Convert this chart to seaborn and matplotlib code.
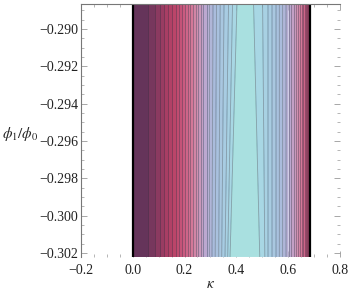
import numpy as np
import matplotlib
matplotlib.use("Agg")
import matplotlib.pyplot as plt
import seaborn as sns
from matplotlib.colors import LinearSegmentedColormap, Normalize
from matplotlib.ticker import MultipleLocator, FuncFormatter

# ---- data ----
# kappa positions of contour lines on the rising (left) side, levels 1..26, at top / bottom of plot
left_top = [0.0603, 0.0863, 0.1056, 0.1222, 0.1377, 0.1532, 0.1675, 0.1803, 0.1919, 0.2023,
            0.2128, 0.2228, 0.2333, 0.2429, 0.2526, 0.2623, 0.2731, 0.2863, 0.2963, 0.3099,
            0.3234, 0.3377, 0.3524, 0.3698, 0.3853, 0.4023]
left_bot = [0.0603, 0.0863, 0.1056, 0.1222, 0.1377, 0.1532, 0.1675, 0.1803, 0.1919, 0.2023,
            0.2128, 0.2228, 0.2333, 0.2429, 0.2526, 0.2623, 0.2731, 0.2863, 0.2963, 0.3060,
            0.3184, 0.3319, 0.3435, 0.3563, 0.3667, 0.3756]
# falling (right) side, levels 26 down to 6
right_top = [0.4665, 0.5014, 0.5222, 0.5377, 0.5532, 0.5660, 0.5787, 0.5919, 0.6019, 0.6124,
             0.6213, 0.6306, 0.6383, 0.6460, 0.6530, 0.6588, 0.6646, 0.6692, 0.6731, 0.6762, 0.6789]
right_bot = [0.4905, 0.5099, 0.5222, 0.5377, 0.5532, 0.5660, 0.5787, 0.5919, 0.6019, 0.6124,
             0.6213, 0.6306, 0.6383, 0.6460, 0.6530, 0.6588, 0.6646, 0.6692, 0.6731, 0.6762, 0.6789]
kappa_min, kappa_max = 0.0, 0.684
left_edge_value, right_edge_value, peak_value = 0.5, 1.5, 26.5
phi_top, phi_bottom = -0.28866, -0.30222

band_stops = [0, 2, 4, 6, 9, 12, 14, 17, 20, 23, 25, 26]
band_colors = ["#65345a", "#8c3a60", "#a83e64", "#bb4569", "#cb5b80", "#d47898",
               "#d090b0", "#bca8d0", "#aabcdc", "#a8cce2", "#a8d6e4", "#a9e0e0"]

xticks = [-0.2, 0.0, 0.2, 0.4, 0.6, 0.8]
yticks = [-0.302, -0.300, -0.298, -0.296, -0.294, -0.292, -0.290]

# ---- build field whose contours sit at the read positions ----
nL = len(left_top)
nR = len(right_top)
kap = np.linspace(kappa_min, kappa_max, 1600)
phis = np.linspace(phi_bottom, phi_top, 80)
Z = np.zeros((len(phis), len(kap)))
for i, p in enumerate(phis):
    t = (p - phi_bottom) / (phi_top - phi_bottom)
    L = (1 - t) * np.array(left_bot) + t * np.array(left_top)
    R = (1 - t) * np.array(right_bot) + t * np.array(right_top)
    peak = 0.5 * (L[-1] + R[0])
    xs = np.concatenate([[kappa_min], L, [peak], R, [kappa_max]])
    vs = np.concatenate([[left_edge_value], np.arange(1, nL + 1), [peak_value],
                         np.arange(26, 26 - nR, -1), [right_edge_value]])
    Z[i] = np.interp(kap, xs, vs)
K, P = np.meshgrid(kap, phis)

sns.set_style("ticks")
plt.rcParams["font.family"] = ["Liberation Serif", "DejaVu Serif"]
plt.rcParams["mathtext.fontset"] = "stix"

cmap = LinearSegmentedColormap.from_list(
    "m10", [(s / 26, c) for s, c in zip(band_stops, band_colors)])

fig = plt.figure(figsize=(3.49, 2.93), dpi=100)
ax = fig.add_axes([0.232, 0.123, 0.742, 0.8635])

levels = np.arange(0, 28)
ax.contourf(K, P, Z, levels=levels, cmap=cmap, norm=Normalize(0.5, 26.5), antialiased=True)
ax.contour(K, P, Z, levels=levels[1:27], colors="#1a2a3a", alpha=0.38, linewidths=0.6)
for kb in (kappa_min, kappa_max):
    ax.plot([kb, kb], [phi_bottom, phi_top], color="black", lw=1.6, solid_capstyle="butt")

ax.set_xlim(-0.2, 0.8)
ax.set_ylim(phi_bottom, phi_top)
ax.set_xticks(xticks)
ax.set_yticks(yticks)
ax.xaxis.set_minor_locator(MultipleLocator(0.05))
ax.yaxis.set_minor_locator(MultipleLocator(0.0005))
ax.xaxis.set_major_formatter(FuncFormatter(lambda v, _: f"{v:.1f}".replace("-", "\u2212")))
ax.yaxis.set_major_formatter(FuncFormatter(lambda v, _: f"{v:.3f}".replace("-", "\u2212")))

for s in ("bottom", "right"):
    ax.spines[s].set_visible(False)
for s in ("top", "left"):
    ax.spines[s].set_color("#777777")
    ax.spines[s].set_linewidth(0.8)

ax.tick_params(which="both", direction="in", top=True, right=True, bottom=True, left=True,
               color="#999999", labelsize=10, labelcolor="#222222")
ax.tick_params(which="major", length=4, width=0.6, pad=2)
ax.tick_params(which="minor", length=2, width=0.5)
ax.tick_params(axis="x", pad=5)

ax.set_xlabel(r"$\kappa$", fontsize=11, labelpad=1)
ax.set_ylabel(r"$\phi_1/\phi_0$", fontsize=11, rotation=0, ha="right", va="center")
ax.yaxis.set_label_coords(-0.165, 0.485)

fig.savefig("out.png", dpi=100)
